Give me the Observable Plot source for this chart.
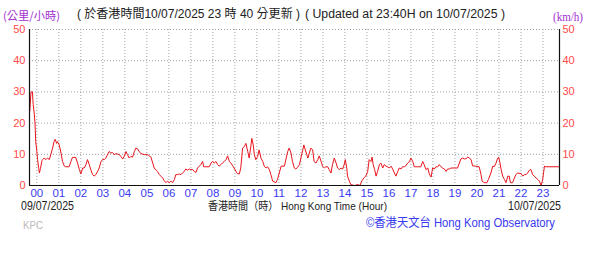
<!DOCTYPE html>
<html>
<head>
<meta charset="utf-8">
<script src="https://cdn.jsdelivr.net/npm/d3@7"></script>
<script src="https://cdn.jsdelivr.net/npm/@observablehq/plot@0.6"></script>
<style>
  html, body { margin: 0; padding: 0; background: #fff; }
  #chart { width: 600px; height: 276px; overflow: hidden; }
</style>
</head>
<body>
<div id="chart"></div>
<script>
// minutes after 00:00 HKT on 10/07/2025 (negative = 09/07/2025)
const minutes = [
  -19,-16,-12,-10,-7,-5,-3,0,2,5,7,10,14,16,20,25,29,34,38,43,47,50,54,56,61,66,70,75,79,88,
  93,97,106,111,116,120,125,129,134,138,143,147,152,156,161,166,170,175,179,184,188,193,197,202,206,211,216,225,229,234,
  238,243,247,252,256,261,266,270,275,279,284,293,302,311,316,320,329,334,343,347,352,356,361,366,370,375,379,384,388,393,
  397,402,406,411,416,420,425,429,434,438,443,447,452,455,461,470,475,479,484,488,493,497,502,506,511,516,520,525,529,534,
  538,543,547,552,556,561,566,570,575,579,584,586,590,593,597,602,606,611,616,620,625,629,634,638,643,652,656,661,666,675,
  684,688,693,697,702,706,711,716,720,725,728,732,736,739,743,747,752,756,761,766,770,775,779,784,788,793,797,802,806,811,
  816,820,825,829,834,838,841,845,847,852,856,866,875,881,886,893,897,902,906,911,914,917,921,925,929,934,938,943,947,952,
  956,961,966,970,975,979,984,988,993,997,1002,1006,1011,1016,1020,1025,1029,1038,1047,1052,1056,1061,1066,1070,1075,1079,1084,1088,1093,1097,
  1102,1106,1111,1116,1120,1125,1129,1138,1147,1152,1156,1161,1166,1170,1175,1179,1184,1188,1197,1206,1211,1214,1220,1227,1231,1238,1243,1247,1252,1256,
  1259,1262,1266,1270,1275,1279,1284,1288,1291,1297,1302,1306,1311,1320,1325,1329,1334,1338,1343,1347,1352,1356,1366,1370,1375,1379,1384,1388,1425
];
// wind speed, km/h
const speeds = [
  24,30,30,26,23,20,14,11,8.3,5.7,4,5.5,8,8.3,8.8,8.3,8.8,8.3,9.9,12,14.1,14.8,13.5,14.1,13,10.4,7.7,6.2,6,6,
  7.7,9,9,7.2,5.1,3.7,5.6,5.6,6.7,8.3,6.7,5.1,3.5,3,3.5,4.6,5.6,7.7,8.3,8.3,8.8,9.9,10.9,10.4,10.6,9.9,10.2,9.9,9.3,8.5,
  9.3,10.9,9.9,8.8,9.3,9.1,10.9,12,11.7,10.9,10.2,9.9,9.9,9.1,7.2,5.6,4.5,3.5,2.4,1.6,0.9,1.4,0.9,1.4,0.9,1.9,3.5,3.5,3.7,3.5,
  4,4.5,5.3,4.9,5.3,5.1,5.1,4.5,4.2,5.6,6.2,6.7,7.7,6,6,6,7.2,7.7,7.2,7.7,6.7,6.2,6.7,7.2,7.7,8.3,9.5,7.7,7.2,6.3,
  5.6,4.5,3.8,3.7,5.6,12,12.5,13.5,10.9,8.8,13,15.1,13,9.9,8.3,9.3,11.4,8.8,7.7,6.2,5.6,6,5.1,3.5,1.4,0.9,1.9,4,6.2,6.2,
  10.9,12,10.4,7.7,5.6,5.3,5.8,6.7,8.8,11.4,13,11.4,9.9,8.8,10.4,12,11.4,7.7,7.2,8.3,9.5,7.7,6.2,5.6,6,6,5.1,4,6.7,8.8,
  7.2,5.6,5.1,5.6,5.3,6.7,8.3,5.6,3,1.4,0.3,0,0.3,0,1.5,2.6,3,4.5,8.3,7.7,9.1,6.7,5.1,3,4.5,6.7,7.2,5.6,6.7,6.2,
  6,5.6,6.2,5.3,4,3,4.5,5.6,5.3,6,6,6.3,7.2,7.7,8.8,7.7,6,6,6,7.7,6.7,5.1,5.6,3.7,2.7,5.6,5.3,6,6,6.7,
  6,5.6,5.3,4.5,5.3,5.3,5.6,5.6,5.6,7.2,8.5,8.8,8.5,8.6,9.1,8.8,8.3,6.3,6.2,6,3.5,1.4,0.9,0.9,1.9,4,6.2,6,7.2,8.6,
  9.1,7.7,5.1,3,1.9,0.9,3,3,0.9,0.9,2.4,3.5,4,3.8,3,3.5,3.5,4,4.9,5.1,3.5,3,1.9,1.4,0,1.9,6.2,6,6
];
const yTicks = [0, 10, 20, 30, 40, 50];
const hourLabels = ["00","01","02","03","04","05","06","07","08","09","10","11","12","13","14","15","16","17","18","19","20","21","22","23"];

const base = Date.UTC(2025, 6, 10, 0, 0);
const toDate = m => new Date(base + m * 60000);
const data = minutes.map((m, i) => ({t: toDate(m), v: speeds[i]}));
const xStart = toDate(-20), xEnd = toDate(1425);
const hours = hourLabels.map(h => toDate(+h * 60));

const FONT = "'Liberation Sans', 'Noto Sans CJK TC', sans-serif";

const chart = Plot.plot({
  width: 600,
  height: 276,
  marginTop: 29,
  marginBottom: 91,
  marginLeft: 29,
  marginRight: 41,
  style: {fontFamily: FONT, background: "#fff", overflow: "visible"},
  x: {type: "utc", domain: [xStart, xEnd]},
  y: {domain: [0, 50]},
  marks: [
    Plot.gridX(hours, {stroke: "#a0a0a0", strokeOpacity: 1, strokeDasharray: "1,2"}),
    Plot.gridY(yTicks.slice(1), {stroke: "#a0a0a0", strokeOpacity: 1, strokeDasharray: "1,2"}),
    Plot.line(data, {x: "t", y: "v", stroke: "#e8141c", strokeWidth: 1}),
    Plot.ruleX([xStart, xEnd], {stroke: "#111", strokeWidth: 1.2}),
    Plot.ruleY([0], {stroke: "#111", strokeWidth: 1.2}),
    Plot.axisY({ticks: yTicks, anchor: "left", tickSize: 0, tickPadding: 4, color: "#ff4a4a", fontSize: 11, label: null}),
    Plot.axisY({ticks: yTicks, anchor: "right", tickSize: 0, tickPadding: 3, color: "#ff4a4a", fontSize: 11, label: null}),
    Plot.axisX({ticks: hours, anchor: "bottom", tickSize: 0, tickPadding: 3, color: "#3a3af0", fontSize: 11.5, label: null,
      tickFormat: d => hourLabels[d.getUTCHours()]})
  ]
});

document.getElementById("chart").appendChild(chart);

const svg = d3.select(chart);
function addText(x, y, str, opts = {}) {
  const t = svg.append("text")
    .attr("x", x).attr("y", y)
    .attr("text-anchor", opts.anchor || "start")
    .attr("font-family", opts.family || FONT)
    .attr("font-size", opts.size || 12)
    .attr("fill", opts.fill || "#222")
    .text(str);
  if (opts.len) t.attr("textLength", opts.len).attr("lengthAdjust", "spacingAndGlyphs");
}
addText(3, 20, "(公里/小時)", {size: 11, fill: "#a030d0", family: "'Noto Sans CJK TC', sans-serif", len: 57});
addText(77, 18, "( 於香港時間10/07/2025 23 時 40 分更新 )", {size: 12.5, fill: "#222", len: 223});
addText(305, 18, "( Updated at 23:40H on 10/07/2025 )", {size: 12.5, fill: "#222", len: 200});
addText(553, 21, "(km/h)", {size: 11.5, fill: "#a030d0", family: "'Liberation Serif', serif", len: 30});
addText(21, 210, "09/07/2025", {size: 12, fill: "#222", len: 53});
addText(561, 210, "10/07/2025", {size: 12, fill: "#222", anchor: "end", len: 53});
addText(208, 210, "香港時間（時） Hong Kong Time (Hour)", {size: 11, fill: "#222", len: 179});
addText(23, 229, "KPC", {size: 11, fill: "#bbbbbb", len: 20});
addText(366, 227, "©香港天文台 Hong Kong Observatory", {size: 12.5, fill: "#3a3af0", len: 189});
</script>
</body>
</html>
